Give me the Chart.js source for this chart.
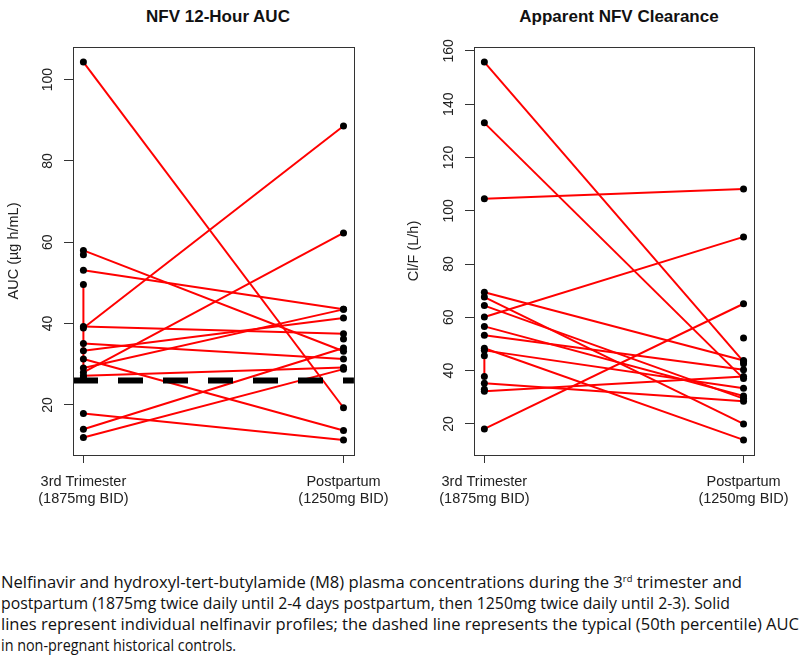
<!DOCTYPE html>
<html lang="en">
<head>
  <meta charset="UTF-8" />
  <title>NFV AUC and Clearance</title>
  <script src="https://cdn.jsdelivr.net/npm/chart.js"></script>
  <style>
    body { margin: 0; background: #fff; width: 800px; height: 662px; position: relative; overflow: hidden; }
    canvas { position: absolute; top: 0; }
    .title { position: absolute; top: 7px; width: 300px; text-align: center; font: bold 17px "Liberation Sans", Arial, sans-serif; color: #111; }
    .caption { position: absolute; left: 1px; top: 572px; font: 16px "Liberation Sans Narrow", "Open Sans", sans-serif; color: #111; line-height: 21px; }
    .caption .line { display: block; white-space: nowrap; width: max-content; transform-origin: 0 0; }
    .caption sup { font-size: 9px; vertical-align: 6px; line-height: 0; }
  </style>
</head>
<body>
  <div class="title" style="left:68px">NFV 12-Hour AUC</div>
  <div class="title" style="left:469px">Apparent NFV Clearance</div>
  <canvas id="aucChart" width="400" height="520" style="left:0"></canvas>
  <canvas id="clChart" width="400" height="520" style="left:400px"></canvas>

  <div class="caption">
    <span class="line" data-w="741">Nelfinavir and hydroxyl-tert-butylamide (M8) plasma concentrations during the 3<sup>rd</sup> trimester and</span>
    <span class="line" data-w="729">postpartum (1875mg twice daily until 2-4 days postpartum, then 1250mg twice daily until 2-3). Solid</span>
    <span class="line" data-w="798">lines represent individual nelfinavir profiles; the dashed line represents the typical (50th percentile) AUC</span>
    <span class="line" data-w="235">in non-pregnant historical controls.</span>
  </div>

  <script>
    // x positions: 1 = 3rd trimester, 2 = postpartum
    const periods = [['3rd Trimester', '(1875mg BID)'], ['Postpartum', '(1250mg BID)']];

    // NFV 12-hour AUC (ug h/mL), paired per subject
    const aucThird = [104.3, 58.0, 53.1, 38.9, 39.3, 35.1, 33.3, 31.3, 29.1, 28.0, 27.2, 17.9, 14.0, 12.0];
    const aucPost  = [19.3, 33.2, 43.5, 88.6, 37.5, 31.3, 41.4, 13.7, 43.5, 62.3, 29.2, 11.4, 34.0, 28.8];
    const aucThirdOnly = [56.9];
    const aucPostOnly = [36.2];
    const aucJoin = [49.6, 26.8];      // segment drawn at the 3rd trimester
    const aucTypical = 26.0;           // 50th percentile, non-pregnant controls
    const aucTicks = [20, 40, 60, 80, 100];

    // apparent clearance Cl/F (L/h), paired per subject
    const clThird = [18.1, 32.3, 35.3, 48.4, 47.6, 53.3, 56.6, 60.1, 64.4, 67.6, 69.4, 104.5, 133.0, 155.8];
    const clPost  = [65.1, 37.8, 28.5, 14.0, 33.4, 40.3, 30.5, 90.2, 29.5, 20.0, 43.8, 108.2, 37.0, 43.4];
    const clThirdOnly = [33.0];
    const clPostOnly = [52.2, 42.6];
    const clJoin = [45.6, 37.8];
    const clTicks = [20, 40, 60, 80, 100, 120, 140, 160];

    Chart.defaults.font.family = '"Liberation Sans", Arial, sans-serif';
    Chart.defaults.color = '#222';

    const xMin = 0.96, xMax = 2.04;

    // R style: range padded by 4%
    function padRange(values) {
      const lo = Math.min(...values), hi = Math.max(...values);
      const d = (hi - lo) * 0.04;
      return [lo - d, hi + d];
    }

    const boxPlugin = {
      id: 'box',
      afterDraw(chart) {
        const a = chart.chartArea, c = chart.ctx;
        c.save();
        c.strokeStyle = '#333';
        c.lineWidth = 1;
        c.strokeRect(Math.round(a.left) + 0.5, Math.round(a.top) + 0.5, Math.round(a.right - a.left), Math.round(a.bottom - a.top));
        c.restore();
      }
    };

    function makePanel(id, third, post, thirdOnly, postOnly, join, ticks, yTitle, axisWidth, padRight, typical) {
      const all = third.concat(post, thirdOnly, postOnly, join);
      const [yMin, yMax] = padRange(all);

      const datasets = third.map((v, i) => ({
        data: [{ x: 1, y: v }, { x: 2, y: post[i] }],
        showLine: true, borderColor: '#ff0000', borderWidth: 2, pointRadius: 0, order: 2
      }));
      datasets.push({
        data: join.map(v => ({ x: 1, y: v })),
        showLine: true, borderColor: '#ff0000', borderWidth: 2, pointRadius: 0, order: 2
      });
      if (typical !== undefined) {
        datasets.push({
          data: [{ x: xMin, y: typical }, { x: xMax, y: typical }],
          showLine: true, borderColor: '#000', borderWidth: 6, borderDash: [25, 20],
          borderCapStyle: 'butt', pointRadius: 0, order: 1
        });
      }
      const pts = third.concat(thirdOnly, join).map(v => ({ x: 1, y: v }))
        .concat(post.concat(postOnly).map(v => ({ x: 2, y: v })));
      datasets.push({
        data: pts, showLine: false, pointRadius: 3.5, pointBackgroundColor: '#000',
        pointBorderColor: '#000', pointBorderWidth: 0, order: 0
      });

      return new Chart(document.getElementById(id), {
        type: 'scatter',
        data: { datasets },
        plugins: [boxPlugin],
        options: {
          responsive: false,
          animation: false,
          layout: { padding: { top: 47, right: padRight, bottom: 0, left: 0 } },
          plugins: { legend: { display: false }, tooltip: { enabled: false } },
          scales: {
            x: {
              type: 'linear', min: xMin, max: xMax,
              afterBuildTicks: s => { s.ticks = [{ value: 1 }, { value: 2 }]; },
              afterFit: s => { s.height = 65; },
              grid: { drawOnChartArea: false, tickLength: 8, color: '#333' },
              border: { display: false },
              ticks: {
                padding: 10, maxRotation: 0, font: { size: 14.5 },
                callback: v => periods[Math.round(v) - 1]
              }
            },
            y: {
              type: 'linear', min: yMin, max: yMax,
              afterBuildTicks: s => { s.ticks = ticks.map(v => ({ value: v })); },
              afterFit: s => { s.width = axisWidth; },
              grid: { drawOnChartArea: false, tickLength: 9, color: '#333' },
              border: { display: false },
              title: { display: true, text: yTitle, font: { size: 14.5 }, padding: { top: 5, bottom: 0 } },
              ticks: { minRotation: 90, maxRotation: 90, crossAlign: 'center', padding: 4, font: { size: 14 } }
            }
          }
        }
      });
    }

    makePanel('aucChart', aucThird, aucPost, aucThirdOnly, aucPostOnly, aucJoin, aucTicks, 'AUC (µg h/mL)', 73, 37, aucTypical);
    makePanel('clChart', clThird, clPost, clThirdOnly, clPostOnly, clJoin, clTicks, 'Cl/F (L/h)', 74, 36);

    // fit caption lines to their widths in the figure
    document.querySelectorAll('.caption .line').forEach(el => {
      const w = el.getBoundingClientRect().width;
      el.style.transform = 'scaleX(' + (el.dataset.w / w) + ')';
    });
  </script>
</body>
</html>
